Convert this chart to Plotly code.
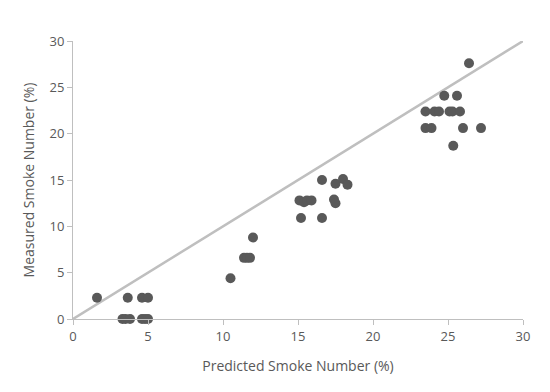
import plotly.graph_objects as go

predicted = [1.6, 3.65, 4.6, 5.0,
             3.3, 3.5, 3.8, 4.6, 4.8, 5.0,
             10.5, 11.4, 11.6, 11.8, 12.0,
             15.2, 16.6, 15.1, 15.4, 15.6, 15.9, 16.6, 17.4, 17.5, 17.5, 18.0, 18.3,
             26.4, 24.75, 25.6, 23.5, 24.1, 24.4, 25.1, 25.3, 25.8,
             23.5, 23.9, 26.0, 27.2, 25.35]
measured = [2.3, 2.3, 2.3, 2.3,
            0, 0, 0, 0, 0, 0,
            4.4, 6.6, 6.6, 6.6, 8.8,
            10.9, 10.9, 12.8, 12.6, 12.8, 12.8, 15.0, 12.9, 12.5, 14.6, 15.1, 14.5,
            27.6, 24.1, 24.1, 22.4, 22.4, 22.4, 22.4, 22.4, 22.4,
            20.6, 20.6, 20.6, 20.6, 18.7]
line_x = [0, 30]
line_y = [0, 30]
ticks = [0, 5, 10, 15, 20, 25, 30]

fig = go.Figure()
fig.add_trace(go.Scatter(x=line_x, y=line_y, mode="lines",
                         line=dict(color="#bfbfbf", width=2.5), cliponaxis=False,
                         showlegend=False, hoverinfo="skip"))
fig.add_trace(go.Scatter(x=predicted, y=measured, mode="markers",
                         marker=dict(color="#595959", size=10), cliponaxis=False,
                         showlegend=False))

axis_common = dict(range=[0, 30], tickvals=ticks, showgrid=False, zeroline=False,
                   showline=True, linecolor="#bfbfbf", linewidth=1,
                   ticks="outside", ticklen=5, tickcolor="#bfbfbf",
                   tickfont=dict(family="Open Sans", size=13, color="#595959"),
                   title_font=dict(family="Open Sans", size=14, color="#595959"))
fig.update_xaxes(title_text="Predicted Smoke Number (%)", title_standoff=17, **axis_common)
fig.update_yaxes(title_text="Measured Smoke Number (%)", title_standoff=11, **axis_common)

fig.update_layout(width=550, height=392, margin=dict(l=65, r=35, t=33, b=81),
                  plot_bgcolor="white", paper_bgcolor="white")
fig.write_html("out.html")
